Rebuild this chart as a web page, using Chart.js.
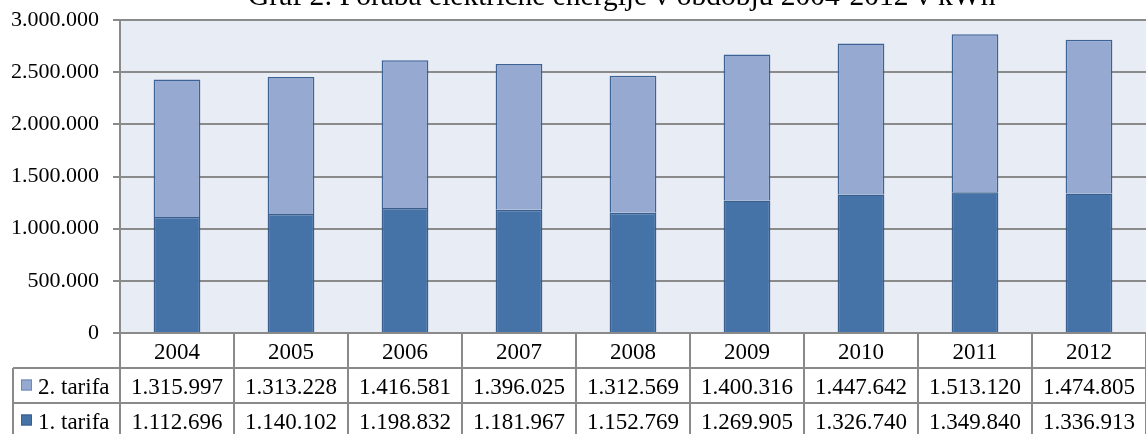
<!DOCTYPE html>
<html>
<head>
<meta charset="utf-8">
<script src="https://cdn.jsdelivr.net/npm/chart.js@4/dist/chart.umd.min.js"></script>
<style>
  html, body { margin: 0; padding: 0; background: #fff; overflow: hidden; }
  #wrap { position: relative; width: 1146px; height: 434px; }
</style>
</head>
<body>
<div id="wrap"><canvas id="chart"></canvas></div>
<script>
// ==================== DATA ====================
const titleText = 'Graf 2: Poraba električne energije v obdobju 2004-2012 v kWh';
const years = ['2004', '2005', '2006', '2007', '2008', '2009', '2010', '2011', '2012'];
const tarifa1 = [1112696, 1140102, 1198832, 1181967, 1152769, 1269905, 1326740, 1349840, 1336913];
const tarifa2 = [1315997, 1313228, 1416581, 1396025, 1312569, 1400316, 1447642, 1513120, 1474805];
const seriesNames = ['1. tarifa', '2. tarifa'];
const yMax = 3000000;
const yStep = 500000;

// ==================== STYLE ====================
const FONT = '"Liberation Serif", "Times New Roman", serif';
const GRID = '#8a8a8a';
const DARK = '#4572a7';
const DARK_EDGE = '#3a5f8e';
const LIGHT = '#95a9d1';
const LIGHT_EDGE = '#3d6396';
const PLOT_BG = '#e8ecf4';

function fmt(n) {
    return String(n).replace(/\B(?=(\d{3})+(?!\d))/g, '.');
}

// plot background
const plotBg = {
    id: 'plotBg',
    beforeDraw(chart) {
        const { ctx, chartArea: a } = chart;
        ctx.save();
        ctx.fillStyle = PLOT_BG;
        ctx.fillRect(a.left, a.top, a.right - a.left, a.bottom - a.top);
        ctx.restore();
    }
};

// data table under the plot + clipped title
const dataTable = {
    id: 'dataTable',
    afterDraw(chart) {
        const { ctx, chartArea: a } = chart;
        const x = chart.scales.x;
        const rowH = 35;
        const top = a.bottom;
        const legendLeft = 13;
        const bottom = chart.height + 5;

        // column boundaries from the category scale
        const bounds = [a.left];
        for (let i = 0; i < years.length - 1; i++) {
            bounds.push((x.getPixelForValue(i) + x.getPixelForValue(i + 1)) / 2);
        }
        bounds.push(a.right);

        ctx.save();
        ctx.strokeStyle = GRID;
        ctx.lineWidth = 2;
        ctx.beginPath();
        // horizontal row lines
        [top + rowH, top + rowH * 2].forEach(y => {
            ctx.moveTo(legendLeft, y);
            ctx.lineTo(a.right, y);
        });
        // legend column left edge
        ctx.moveTo(legendLeft, top + rowH);
        ctx.lineTo(legendLeft, bottom);
        // column separators
        bounds.forEach(bx => {
            ctx.moveTo(bx, top);
            ctx.lineTo(bx, bottom);
        });
        ctx.stroke();

        ctx.fillStyle = '#000';
        ctx.font = '23px ' + FONT;
        ctx.textAlign = 'center';
        ctx.textBaseline = 'alphabetic';

        const rows = [
            { label: null, vals: years },
            { label: seriesNames[1], vals: tarifa2.map(fmt), fill: LIGHT, edge: '#6f88b8' },
            { label: seriesNames[0], vals: tarifa1.map(fmt), fill: DARK, edge: DARK_EDGE },
        ];
        rows.forEach((r, ri) => {
            const base = top + ri * rowH + 26;
            r.vals.forEach((v, i) => {
                ctx.fillText(v, x.getPixelForValue(i), base);
            });
            if (r.label) {
                const cy = top + ri * rowH + rowH / 2;
                ctx.fillStyle = r.fill;
                ctx.fillRect(21, cy - 6, 11, 11);
                ctx.strokeStyle = r.edge;
                ctx.lineWidth = 1;
                ctx.strokeRect(21.5, cy - 5.5, 10, 10);
                ctx.fillStyle = '#000';
                ctx.textAlign = 'left';
                ctx.fillText(r.label, 38, base);
                ctx.textAlign = 'center';
            }
        });

        // title (top of it falls outside the picture)
        ctx.font = '29.5px ' + FONT;
        ctx.textAlign = 'left';
        ctx.fillText(titleText, 248, 5);
        ctx.restore();
    }
};

const ctx = document.getElementById('chart').getContext('2d');
new Chart(ctx, {
    type: 'bar',
    data: {
        labels: years,
        datasets: [
            {
                label: seriesNames[0],
                data: tarifa1,
                backgroundColor: DARK,
                borderColor: DARK_EDGE,
                borderWidth: 1.5,
                barPercentage: 0.41,
                categoryPercentage: 1,
            },
            {
                label: seriesNames[1],
                data: tarifa2,
                backgroundColor: LIGHT,
                borderColor: LIGHT_EDGE,
                borderWidth: 1.5,
                barPercentage: 0.41,
                categoryPercentage: 1,
            }
        ]
    },
    options: {
        responsive: true,
        maintainAspectRatio: false,
        animation: false,
        layout: { padding: { top: 20, bottom: 101, left: 0, right: 0 } },
        plugins: {
            legend: { display: false },
            title: { display: false },
            tooltip: {
                callbacks: { label: (c) => `${c.dataset.label}: ${fmt(c.raw)}` }
            }
        },
        scales: {
            x: {
                stacked: true,
                display: false,
            },
            y: {
                stacked: true,
                min: 0,
                max: yMax,
                afterFit: (s) => {
                    s.width = 120;
                    // label overhang is covered by layout padding
                    s.paddingTop = 0;
                    s.paddingBottom = 0;
                },
                ticks: {
                    stepSize: yStep,
                    padding: 14,
                    color: '#000',
                    font: { family: FONT, size: 22 },
                    callback: (v) => fmt(v),
                },
                grid: { color: GRID, lineWidth: 2, tickLength: 7 },
                border: { color: GRID, width: 2 },
            }
        }
    },
    plugins: [plotBg, dataTable]
});
</script>
</body>
</html>
